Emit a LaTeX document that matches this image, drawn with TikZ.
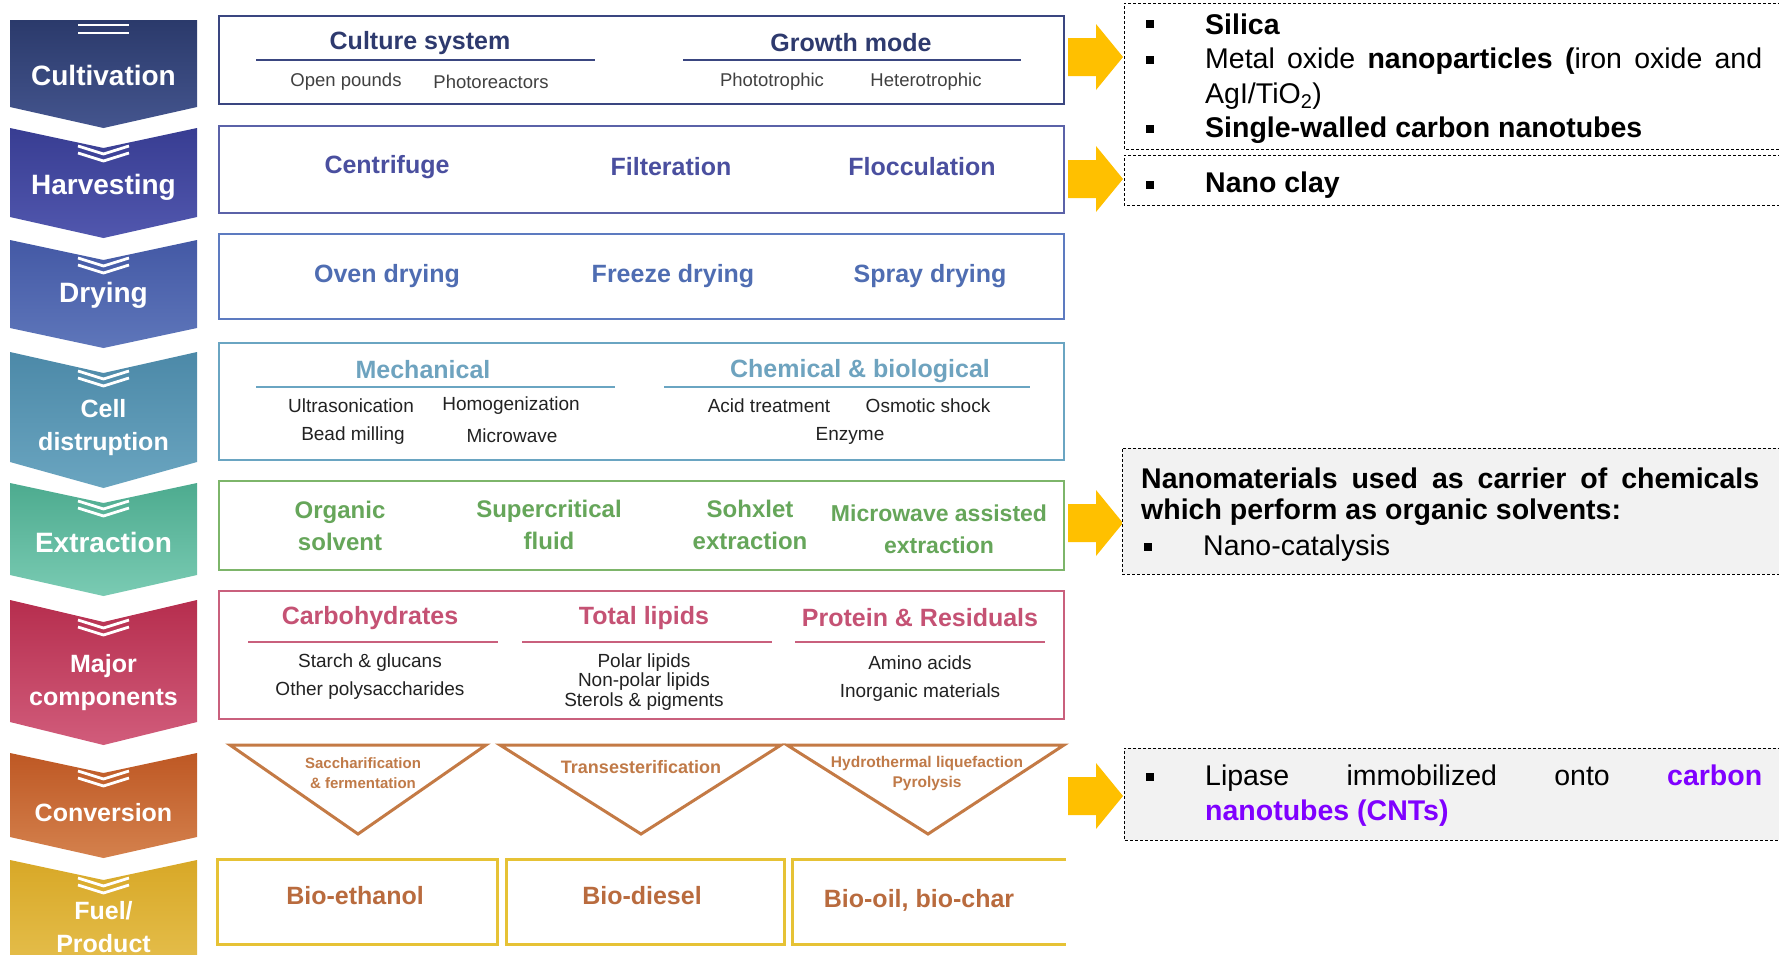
\documentclass[tikz,border=0pt]{standalone}
\usepackage{fontspec}
\setmainfont{Liberation Sans}
\usetikzlibrary{calc}
\definecolor{c1b}{HTML}{3A4680}
\definecolor{c1t}{HTML}{2E3A6E}
\definecolor{c2b}{HTML}{5B62A8}
\definecolor{c2t}{HTML}{4A4F9F}
\definecolor{c3b}{HTML}{5D7BC0}
\definecolor{c3t}{HTML}{4F6DB2}
\definecolor{c4b}{HTML}{6AA5C2}
\definecolor{c4t}{HTML}{6EA3BF}
\definecolor{c5b}{HTML}{7DB56A}
\definecolor{c5t}{HTML}{66A65A}
\definecolor{c6b}{HTML}{C9607D}
\definecolor{c6t}{HTML}{C55274}
\definecolor{c7b}{HTML}{C47A45}
\definecolor{c7t}{HTML}{C07A48}
\definecolor{c8b}{HTML}{E6C235}
\definecolor{c8t}{HTML}{B96B3E}
\definecolor{subtxt}{HTML}{222222}
\definecolor{arrowy}{HTML}{FFC000}
\definecolor{greybox}{HTML}{F2F2F2}
\definecolor{purp}{HTML}{7F00FF}
\definecolor{k1a}{HTML}{2B3A6B}\definecolor{k1z}{HTML}{44558E}
\definecolor{k2a}{HTML}{383D92}\definecolor{k2z}{HTML}{5157AE}
\definecolor{k3a}{HTML}{4459A5}\definecolor{k3z}{HTML}{5E76BA}
\definecolor{k4a}{HTML}{4C89A8}\definecolor{k4z}{HTML}{6AA5C0}
\definecolor{k5a}{HTML}{4DAB8F}\definecolor{k5z}{HTML}{7ACBB3}
\definecolor{k6a}{HTML}{B62E4E}\definecolor{k6z}{HTML}{D15C7B}
\definecolor{k7a}{HTML}{BE5824}\definecolor{k7z}{HTML}{D4814D}
\definecolor{k8a}{HTML}{D8A827}\definecolor{k8z}{HTML}{E8C456}
\newcommand{\chevshape}[6]{%
  \path[top color=#5,bottom color=#6] (10,#1) -- (103.5,#1+#2) -- (197,#1) -- (197,#3) -- (103.5,#4) -- (10,#3) -- cycle;}
\newcommand{\vicon}[1]{%
  \draw[white,line width=2.8pt] (78,#1) -- (103.5,#1+8) -- (129,#1);
  \draw[white,line width=2.8pt] (78,#1+7) -- (103.5,#1+15) -- (129,#1+7);}
\newcommand{\yarr}[1]{%
  \fill[arrowy] (1068,#1-19) -- (1096,#1-19) -- (1096,#1-33) -- (1123,#1) -- (1096,#1+33) -- (1096,#1+19) -- (1068,#1+19) -- cycle;}
\tikzset{
  chevtxt/.style={text=white,font=\fontsize{28}{33}\selectfont\bfseries,align=center,inner sep=0pt},
  chevsm/.style={text=white,font=\fontsize{25}{33}\selectfont\bfseries,align=center,inner sep=0pt},
  mbox/.style={draw,line width=2.6pt,minimum width=845pt,inner sep=0pt},
  head/.style={font=\fontsize{25}{30}\selectfont\bfseries,inner sep=0pt},
  twoline/.style={font=\fontsize{24}{32}\selectfont\bfseries,align=center,inner sep=0pt},
  sub/.style={font=\fontsize{19}{22}\selectfont,text=subtxt,inner sep=0pt},
  uline/.style={line width=2.6pt},
  tri/.style={draw=c7b,line width=3pt,line join=miter},
  tritxt/.style={text=c7t,font=\fontsize{15.5}{20}\selectfont\bfseries,align=center,inner sep=0pt},
  bbox/.style={draw=c8b,line width=3pt,inner sep=0pt,minimum height=85pt},
  btxt/.style={text=c8t,font=\fontsize{25}{30}\selectfont\bfseries,inner sep=0pt},
  dbox/.style={draw=black,line width=1pt,dash pattern=on 3pt off 2pt},
  rtxt/.style={font=\fontsize{28.5}{34}\selectfont,anchor=west,inner sep=0pt},
  sqb/.style={fill=black,minimum size=8pt,inner sep=0pt}
}
\begin{document}
\begin{tikzpicture}[x=1pt,y=-1pt]
\useasboundingbox (0,0) rectangle (1779,954);
\fill[white] (0,0) rectangle (1779,954);
% ---------------- chevrons ----------------
\chevshape{20}{0}{107}{128}{k1a}{k1z}
\chevshape{128}{20}{217}{238}{k2a}{k2z}
\chevshape{240}{20}{328}{348}{k3a}{k3z}
\chevshape{352}{21}{462}{488}{k4a}{k4z}
\chevshape{483}{20}{575}{596}{k5a}{k5z}
\chevshape{600}{22}{722}{745}{k6a}{k6z}
\chevshape{753}{20}{837}{858}{k7a}{k7z}
\chevshape{860}{20}{975}{995}{k8a}{k8z}
\draw[white,line width=2.6pt] (78,25) -- (129,25);
\draw[white,line width=2.6pt] (78,33) -- (129,33);
\vicon{146}
\vicon{258}
\vicon{371}
\vicon{501}
\vicon{620}
\vicon{771}
\vicon{878}
\node[chevtxt] (k1) at (103.5,75) {Cultivation};
\node[chevtxt] (k2) at (103.5,187) {Harvesting};
\node[chevtxt] (k3) at (103.5,295) {Drying};
\node[chevsm] (k4) at (103.5,428) {Cell\\distruption};
\node[chevtxt] (k5) at (103.5,542) {Extraction};
\node[chevsm] (k6) at (103.5,683) {Major\\components};
\node[chevsm] (k7) at (103.5,813) {Conversion};
\node[chevsm] (k8) at (103.5,927) {Fuel/\\Product};
% ---------------- box 1 ----------------
\node[mbox,draw=c1b,minimum height=88pt] (m1) at (641.5,60) {};
\node[head,text=c1t] (cs) at (420,43) {Culture system};
\node[head,text=c1t] (gm) at (851,43) {Growth mode};
\draw[uline,c1b] (256,60) -- (595,60);
\draw[uline,c1b] (683,60) -- (1021,60);
\node[sub,font=\fontsize{18.5}{22}\selectfont,text=black!75] (s11) at (346,82) {Open pounds};
\node[sub,font=\fontsize{18.5}{22}\selectfont,text=black!75] (s12) at (491,82) {Photoreactors};
\node[sub,font=\fontsize{18.5}{22}\selectfont,text=black!75] (s13) at (772,82) {Phototrophic};
\node[sub,font=\fontsize{18.5}{22}\selectfont,text=black!75] (s14) at (926,82) {Heterotrophic};
% ---------------- box 2 ----------------
\node[mbox,draw=c2b,minimum height=87pt] (m2) at (641.5,169.5) {};
\node[head,text=c2t] (h21) at (387,167) {Centrifuge};
\node[head,text=c2t] (h22) at (671,167) {Filteration};
\node[head,text=c2t] (h23) at (922,167) {Flocculation};
% ---------------- box 3 ----------------
\node[mbox,draw=c3b,minimum height=85pt] (m3) at (641.5,276.5) {};
\node[head,text=c3t] (h31) at (387,276) {Oven drying};
\node[head,text=c3t] (h32) at (673,276) {Freeze drying};
\node[head,text=c3t] (h33) at (930,276) {Spray drying};
% ---------------- box 4 ----------------
\node[mbox,draw=c4b,minimum height=117pt] (m4) at (641.5,401.5) {};
\node[head,text=c4t] (h41) at (423,370) {Mechanical};
\node[head,text=c4t] (h42) at (860,371) {Chemical \& biological};
\draw[uline,c4b] (256,387) -- (615,387);
\draw[uline,c4b] (664,387) -- (1030,387);
\node[sub] (s41) at (351,406) {Ultrasonication};
\node[sub] (s42) at (511,406) {Homogenization};
\node[sub] (s43) at (769,406) {Acid treatment};
\node[sub] (s44) at (928,406) {Osmotic shock};
\node[sub] (s45) at (353,436) {Bead milling};
\node[sub] (s46) at (512,436) {Microwave};
\node[sub] (s47) at (850,436) {Enzyme};
% ---------------- box 5 ----------------
\node[mbox,draw=c5b,minimum height=89pt] (m5) at (641.5,525.5) {};
\node[twoline,text=c5t] (h51) at (340,526) {Organic\\solvent};
\node[twoline,text=c5t] (h52) at (549,525) {Supercritical\\fluid};
\node[twoline,text=c5t] (h53) at (750,525) {Sohxlet\\extraction};
\node[twoline,text=c5t,font=\fontsize{23}{32}\selectfont\bfseries] (h54) at (939,529) {Microwave assisted\\extraction};
% ---------------- box 6 ----------------
\node[mbox,draw=c6b,minimum height=128pt] (m6) at (641.5,655) {};
\node[head,text=c6t] (h61) at (370,618) {Carbohydrates};
\node[head,text=c6t] (h62) at (644,618) {Total lipids};
\node[head,text=c6t] (h63) at (920,618) {Protein \& Residuals};
\draw[uline,c6b] (248,642) -- (498,642);
\draw[uline,c6b] (522,642) -- (772,642);
\draw[uline,c6b] (795,642) -- (1045,642);
\node[sub] (s61) at (370,663) {Starch \& glucans};
\node[sub] (s62) at (370,691) {Other polysaccharides};
\node[sub] (s63) at (644,663) {Polar lipids};
\node[sub] (s64) at (644,682) {Non-polar lipids};
\node[sub] (s65) at (644,702) {Sterols \& pigments};
\node[sub] (s66) at (920,663) {Amino acids};
\node[sub] (s67) at (920,693) {Inorganic materials};
% ---------------- triangles ----------------
\draw[tri] (230,745) -- (486,745) -- (358,834) -- cycle;
\draw[tri] (500,745) -- (781,745) -- (641,834) -- cycle;
\draw[tri] (787,745) -- (1064,745) -- (928,834) -- cycle;
\node[tritxt,font=\fontsize{15}{20}\selectfont\bfseries] (t1) at (363,773) {Saccharification\\\& fermentation};
\node[tritxt,font=\fontsize{18}{20}\selectfont\bfseries] (t2) at (641,767) {Transesterification};
\node[tritxt] (t3) at (927,773) {Hydrothermal liquefaction\\Pyrolysis};
% ---------------- products ----------------
\node[bbox,minimum width=280pt] (b1) at (357,901.5) {};
\node[bbox,minimum width=278pt] (b2) at (645,901.5) {};
\coordinate (b3a) at (792,859);
\coordinate (b3b) at (792,944);
\draw[draw=c8b,line width=3pt] (1066,859) -- (b3a) -- (b3b) -- (1066,944);
\node[btxt] (p1) at (355,896) {Bio-ethanol};
\node[btxt] (p2) at (642,896) {Bio-diesel};
\node[btxt] (p3) at (919,900) {Bio-oil, bio-char};
% ---------------- arrows ----------------
\yarr{57}
\yarr{179}
\yarr{523}
\yarr{796}
% ---------------- right boxes ----------------
\draw[dbox] (1781,3) -- (1124,3) -- (1124,149) -- (1781,149);
\draw[dbox] (1781,155) -- (1124,155) -- (1124,205) -- (1781,205);
\fill[greybox] (1122,448) rectangle (1779,574);
\draw[dbox] (1781,448) -- (1122,448) -- (1122,574) -- (1781,574);
\fill[greybox] (1124,748) rectangle (1779,840);
\draw[dbox] (1781,748) -- (1124,748) -- (1124,840) -- (1781,840);
\node[sqb] (q1) at (1150,24) {};
\node[sqb] (q2) at (1150,60) {};
\node[sqb] (q3) at (1150,129) {};
\node[sqb] (q4) at (1150,185) {};
\node[sqb] (q5) at (1148,547) {};
\node[sqb] (q6) at (1150,777) {};
\node[rtxt] (r1) at (1205,24) {\bfseries Silica};
\node[rtxt] (r2) at (1205,61) {\makebox[557pt][s]{Metal oxide \textbf{nanoparticles (}iron oxide and}};
\node[rtxt] (r3) at (1205,96) {AgI/TiO\textsubscript{2})};
\node[rtxt] (r4) at (1205,130) {\bfseries Single-walled carbon nanotubes};
\node[rtxt] (r5) at (1205,185) {\bfseries Nano clay};
\node[rtxt] (r6) at (1141,478) {\makebox[618pt][s]{\bfseries Nanomaterials used as carrier of chemicals}};
\node[rtxt] (r7) at (1141,512) {\bfseries which perform as organic solvents:};
\node[rtxt] (r8) at (1203,548) {Nano-catalysis};
\node[rtxt] (r9) at (1205,778) {\makebox[557pt][s]{Lipase immobilized onto \textcolor{purp}{\bfseries carbon}}};
\node[rtxt] (r10) at (1205,813) {\textcolor{purp}{\bfseries nanotubes (CNTs)}};
\end{tikzpicture}
\end{document}
